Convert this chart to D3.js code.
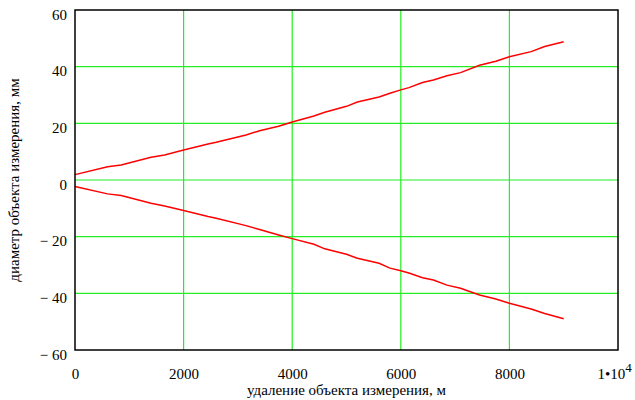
<!DOCTYPE html>
<html>
<head>
<meta charset="utf-8">
<script src="https://cdn.jsdelivr.net/npm/d3@7"></script>
<style>
  body { margin: 0; background: #fff; }
  svg text { font-family: 'Liberation Serif', serif !important; }
</style>
</head>
<body>
<svg id="chart" width="635" height="400"></svg>
<script>
// distance, m
var distance = [0, 600, 850, 1400, 1650, 2000, 2450, 2600, 3150, 3400, 3750, 4000, 4400, 4600, 5000,
    5200, 5600, 5800, 6000, 6150, 6400, 6600, 6850, 7100, 7450, 7750, 8000, 8400, 8650, 9000];
// diameter, mm (upper and lower bounds)
var upper = [1.9, 4.7, 5.3, 8.0, 8.8, 10.6, 12.7, 13.3, 15.9, 17.4, 19.0, 20.5, 22.6, 23.9, 26.0,
    27.5, 29.3, 30.6, 31.8, 32.6, 34.4, 35.3, 36.8, 37.9, 40.5, 41.9, 43.5, 45.3, 47.1, 48.8];
var lower = [-2.3, -4.9, -5.5, -8.2, -9.2, -10.8, -12.9, -13.5, -16.1, -17.5, -19.4, -20.7, -22.7, -24.3, -26.2,
    -27.6, -29.4, -31.1, -32.0, -32.8, -34.5, -35.3, -37.1, -38.2, -40.6, -42.0, -43.5, -45.5, -47.1, -49.0];
var xTicks = [0, 2000, 4000, 6000, 8000, 10000];
var yTicks = [-60, -40, -20, 0, 20, 40, 60];

var margin = { top: 10, right: 17, bottom: 50, left: 75 },
    width = 635 - margin.left - margin.right,
    height = 400 - margin.top - margin.bottom;

var svg = d3.select("#chart")
    .append("g")
    .attr("transform", "translate(" + margin.left + "," + margin.top + ")");

var x = d3.scaleLinear().domain([0, 10000]).range([0, width]);
var y = d3.scaleLinear().domain([-60, 60]).range([height, 0]);

// grid
svg.selectAll(".vgrid")
    .data(xTicks.slice(1, -1))
    .enter().append("line")
    .attr("x1", function (d) { return x(d); })
    .attr("x2", function (d) { return x(d); })
    .attr("y1", 0).attr("y2", height)
    .attr("stroke", "#22ee22").attr("stroke-width", 1.2);

svg.selectAll(".hgrid")
    .data(yTicks.slice(1, -1))
    .enter().append("line")
    .attr("y1", function (d) { return y(d); })
    .attr("y2", function (d) { return y(d); })
    .attr("x1", 0).attr("x2", width)
    .attr("stroke", "#22ee22").attr("stroke-width", 1.2);

// curves
var line = d3.line()
    .x(function (d, i) { return x(distance[i]); })
    .y(function (d) { return y(d); });

[upper, lower].forEach(function (s) {
    svg.append("path")
        .datum(s)
        .attr("d", line)
        .attr("fill", "none")
        .attr("stroke", "#ff0000")
        .attr("stroke-width", 1.5);
});

// frame
svg.append("rect")
    .attr("width", width).attr("height", height)
    .attr("fill", "none")
    .attr("stroke", "#000").attr("stroke-width", 1.5);

// y axis labels
var yAxis = svg.append("g")
    .call(d3.axisLeft(y).tickValues(yTicks).tickSize(0).tickPadding(8)
        .tickFormat(function (d) { return d < 0 ? "\u2212 " + Math.abs(d) : String(d); }));
yAxis.attr("font-size", 15);
yAxis.select(".domain").remove();
yAxis.selectAll("text")
    .attr("dy", "0.6em")
    .attr("fill", "#000");

// x axis labels
var xAxis = svg.append("g")
    .attr("transform", "translate(0," + height + ")")
    .call(d3.axisBottom(x).tickValues(xTicks).tickSize(0).tickPadding(18)
        .tickFormat(function (d) { return String(d); }));
xAxis.attr("font-size", 15);
xAxis.select(".domain").remove();
xAxis.selectAll("text")
    .attr("fill", "#000");
var last = xAxis.selectAll(".tick").filter(function (d) { return d === 10000; }).select("text");
last.text(null).attr("text-anchor", "middle").attr("dx", "-4");
last.append("tspan").text("1");
last.append("tspan").text("\u2022");
last.append("tspan").text("10");
last.append("tspan").text("4").attr("dy", "-0.5em").attr("font-size", 13);

// axis titles
svg.append("text")
    .attr("x", width / 2)
    .attr("y", height + 45)
    .attr("text-anchor", "middle")
    .attr("font-size", 15)
    .text("удаление объекта измерения, м");

svg.append("text")
    .attr("transform", "translate(" + (-56) + "," + (height / 2) + ") rotate(-90)")
    .attr("text-anchor", "middle")
    .attr("font-size", 15)
    .text("диаметр объекта измерения, мм");
</script>
</body>
</html>
